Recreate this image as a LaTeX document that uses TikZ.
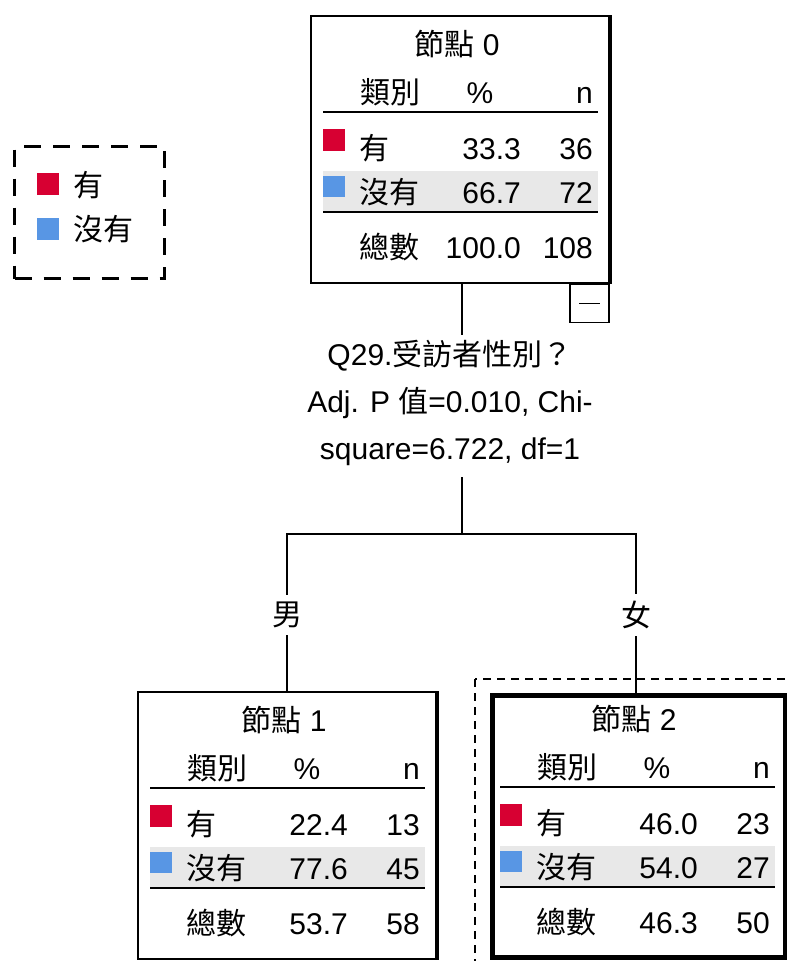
\documentclass[tikz,border=0pt]{standalone}
\usepackage{fontspec}
\setmainfont{Liberation Sans}
\newfontfamily\cjk{Noto Sans CJK TC}
\usepackage{tikz}
\usetikzlibrary{positioning}

\definecolor{catred}{RGB}{215,0,50}
\definecolor{catblue}{RGB}{88,150,228}
\definecolor{rowgray}{RGB}{232,232,232}

\tikzset{
  nodebox/.style={draw, line width=1.8pt, anchor=north west, minimum width=298pt, minimum height=267pt, inner sep=0pt},
  selbox/.style={line width=5pt, minimum width=293pt, minimum height=262pt, xshift=2.5pt, yshift=-2.5pt},
  cell/.style={inner sep=0pt},
  rule/.style={line width=1.5pt},
  link/.style={line width=1.3pt},
  legendbox/.style={draw, line width=3pt, dash pattern=on 17pt off 12pt, anchor=north west, minimum width=150pt, minimum height=132pt},
  selframe/.style={line width=2.2pt, dash pattern=on 8pt off 6pt},
}

% one node of the tree: id, corner, then % and n for each row, then box style
\newcommand{\catnode}[9]{%
  \begin{scope}[shift={#2}]
    \fill[rowgray] (13,156) rectangle (288,196);
    \node[nodebox, #9] (node#1) at (0,0) {};
    \draw[line width=4pt] (node#1.north east) -- (node#1.south east);
    \node[cell, anchor=base] (node#1-title) at (147,40) {{\cjk 節點} #1};
    % header
    \node[cell, anchor=base] (node#1-cat) at (80,88) {\cjk 類別};
    \node[cell, anchor=base] (node#1-pct) at (170,88) {\%};
    \node[cell, anchor=base east] (node#1-n) at (283,88) {n};
    \draw[rule] (13,97) -- (288,97);
    % rows
    \fill[catred] (13,114) rectangle (35,136);
    \node[cell, anchor=base west] (node#1-yes) at (49,144) {\cjk 有};
    \node[cell, anchor=base east] (node#1-yesp) at (211,144) {#3};
    \node[cell, anchor=base east] (node#1-yesn) at (283,144) {#4};
    \fill[catblue] (13,161) rectangle (35,182);
    \node[cell, anchor=base west] (node#1-no) at (49,188) {\cjk 沒有};
    \node[cell, anchor=base east] (node#1-nop) at (211,188) {#5};
    \node[cell, anchor=base east] (node#1-non) at (283,188) {#6};
    \draw[rule] (13,197) -- (288,197);
    % total
    \node[cell, anchor=base west] (node#1-tot) at (49,243) {\cjk 總數};
    \node[cell, anchor=base east] (node#1-totp) at (211,243) {#7};
    \node[cell, anchor=base east] (node#1-totn) at (283,243) {#8};
  \end{scope}}

\begin{document}
\begin{tikzpicture}[x=1pt, y=-1pt, font=\fontsize{30}{36}\selectfont]
    \useasboundingbox (0,0) rectangle (787,961);
    \clip (0,0) rectangle (787,961);

    % Chú thích
    \node[legendbox] (legend) at (13,145) {};
    \fill[catred] (37,173) rectangle (59,195);
    \node[cell, anchor=west] (legend-yes) at (73,185) {\cjk 有};
    \fill[catblue] (37,218) rectangle (59,240);
    \node[cell, anchor=west] (legend-no) at (73,229) {\cjk 沒有};

    % Các nút
    \catnode{0}{(310,15)}{33.3}{36}{66.7}{72}{100.0}{108}{}
    \catnode{1}{(137,691)}{22.4}{13}{77.6}{45}{53.7}{58}{}
    \catnode{2}{(487,690)}{46.0}{23}{54.0}{27}{46.3}{50}{selbox}
    \draw[selframe] (475,679) rectangle (820,1000);

    % Nút thu gọn
    \node[draw, line width=1.6pt, anchor=north east, minimum width=39pt, minimum height=38pt, inner sep=0pt]
        (collapse0) at (node0.south east) {\rule{21pt}{1.6pt}};

    % Biến tách
    \node[cell, align=center, font=\fontsize{30}{47}\selectfont] (split0) at (450,403)
        {Q29.{\cjk 受訪者性別？}\\Adj. P {\cjk 值}=0.010, Chi-\\square=6.722, df=1};
    \coordinate (split0-in) at (462,335);
    \coordinate (split0-out) at (462,477);
    \coordinate (fork) at (462,534);
    \draw[link] (node0.south -| split0-in) -- (split0-in);
    \draw[link] (split0-out) -- (fork);

    % Nhánh
    \node[cell, inner ysep=7pt] (edge1) at (287,615) {\cjk 男};
    \node[cell, inner ysep=7pt] (edge2) at (636,615) {\cjk 女};
    \draw[link] (edge1.north) -- (edge1 |- fork) -- (edge2 |- fork) -- (edge2.north);
    \draw[link] (edge1.south) -- (edge1.south |- node1.north);
    \draw[link] (edge2.south) -- (edge2.south |- node2.north);
\end{tikzpicture}
\end{document}
